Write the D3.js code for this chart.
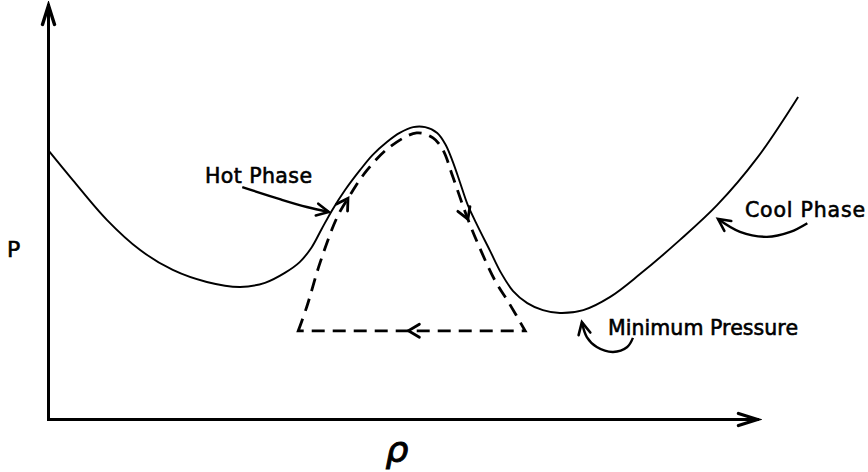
<!DOCTYPE html>
<html>
<head>
<meta charset="utf-8">
<script src="https://cdn.jsdelivr.net/npm/d3@7"></script>
<style>
  html, body { margin: 0; padding: 0; background: #fff; }
  svg { display: block; }
  text { font-family: "DejaVu Sans", sans-serif; fill: #000; stroke: #000; stroke-width: 0.6px; }
</style>
</head>
<body>
<svg id="chart" width="868" height="472"></svg>
<script>
// Equilibrium pressure P against density rho (arbitrary units, 0..10 on each axis)
const curveRho = [0.00, 0.35, 0.83, 1.30, 1.76, 2.24, 2.71, 3.06, 3.34, 3.55, 3.72, 3.86, 4.01, 4.19, 4.40, 4.58, 4.78, 4.96, 5.15, 5.32, 5.49, 5.61, 5.71, 5.81, 5.92, 6.06, 6.23, 6.39, 6.56, 6.76, 6.98, 7.22, 7.55, 7.93, 8.35, 8.91, 9.44, 10.00, 10.58];
const curveP   = [6.50, 5.77, 4.81, 4.08, 3.60, 3.31, 3.19, 3.29, 3.53, 3.79, 4.15, 4.59, 5.05, 5.53, 6.01, 6.38, 6.69, 6.91, 7.05, 7.05, 6.91, 6.62, 6.21, 5.72, 5.17, 4.66, 4.08, 3.53, 3.09, 2.80, 2.63, 2.56, 2.63, 2.95, 3.50, 4.32, 5.17, 6.30, 7.78];

// Thermal cycle (dashed loop), traversed up the left side, down the right, back along the bottom
const cycleRho = [3.53, 3.65, 3.84, 4.08, 4.26, 4.50, 4.82, 5.20, 5.43, 5.57, 5.71, 5.91, 6.09, 6.30, 6.52, 6.73];
const cycleP   = [2.13, 2.71, 3.79, 4.88, 5.41, 6.01, 6.57, 6.91, 6.79, 6.50, 5.85, 4.88, 4.13, 3.36, 2.75, 2.13];

// Points on the cycle where its direction is marked
const cycleArrowRho = [4.23, 5.85, 5.08];
const cycleArrowP   = [5.34, 4.78, 2.13];

// Callout labels and their curved pointers
const noteLabels = ["Hot Phase", "Cool Phase", "Minimum Pressure"];
const hotPointerRho  = [2.74, 3.27, 3.65, 3.96];
const hotPointerP    = [5.60, 5.31, 5.12, 5.00];
const coolPointerRho = [10.71, 10.47, 10.14, 9.76, 9.45];
const coolPointerP   = [4.73, 4.52, 4.40, 4.52, 4.83];
const minPointerRho  = [8.25, 8.17, 7.97, 7.74, 7.60, 7.53];
const minPointerP    = [1.96, 1.74, 1.62, 1.74, 1.98, 2.34];

const axisLabels = ["P", "ρ"];

const svg = d3.select("#chart");
const x = d3.scaleLinear().domain([0, 10]).range([48, 757]);
const y = d3.scaleLinear().domain([0, 10]).range([419, 5]);

const defs = svg.append("defs");
function chevronMarker(id, len, half, sw) {
  const pad = sw + 1;
  defs.append("marker")
    .attr("id", id)
    .attr("markerUnits", "userSpaceOnUse")
    .attr("viewBox", `${-len - pad} ${-half - pad} ${len + 2 * pad} ${2 * half + 2 * pad}`)
    .attr("markerWidth", len + 2 * pad)
    .attr("markerHeight", 2 * half + 2 * pad)
    .attr("refX", 0).attr("refY", 0)
    .attr("orient", "auto")
    .append("path")
    .attr("d", `M${-len},${-half}L0,0L${-len},${half}`)
    .attr("fill", "none").attr("stroke", "#000")
    .attr("stroke-width", sw)
    .attr("stroke-linecap", "round").attr("stroke-linejoin", "miter");
}
chevronMarker("axisHead", 19, 6, 3.4);
chevronMarker("noteHead", 12, 6, 2.6);

// Axes: bare lines with arrow heads, no ticks
const xAxis = d3.axisBottom(x).tickValues([]).tickSizeOuter(0);
const yAxis = d3.axisLeft(y).tickValues([]).tickSizeOuter(0);
svg.append("g").attr("transform", `translate(0,${y(0)})`).call(xAxis)
  .select(".domain")
  .attr("stroke", "#000").attr("stroke-width", 3).attr("stroke-linecap", "square")
  .attr("marker-end", "url(#axisHead)");
svg.append("g").attr("transform", `translate(${x(0)},0)`).call(yAxis)
  .select(".domain")
  .attr("stroke", "#000").attr("stroke-width", 3).attr("stroke-linecap", "square")
  .attr("marker-end", "url(#axisHead)");

svg.append("text").attr("x", 7).attr("y", 257)
  .attr("font-size", 22).text(axisLabels[0]);
svg.append("text").attr("x", 397).attr("y", 462)
  .attr("text-anchor", "middle").attr("font-size", 36).attr("font-style", "italic")
  .style("stroke-width", "1px")
  .text(axisLabels[1]);

const smooth = d3.line()
  .x(d => x(d[0])).y(d => y(d[1]))
  .curve(d3.curveCatmullRom.alpha(0.5));

// Equilibrium curve
svg.append("path")
  .datum(d3.zip(curveRho, curveP))
  .attr("d", smooth)
  .attr("fill", "none").attr("stroke", "#000").attr("stroke-width", 1.9)
  .attr("stroke-linejoin", "round");

// Thermal cycle
const loop = svg.append("path")
  .attr("d", smooth(d3.zip(cycleRho, cycleP)) + "Z")
  .attr("fill", "none").attr("stroke", "#000")
  .attr("stroke-width", 2.8).attr("stroke-dasharray", "13,8");

// Direction chevrons placed on the loop, oriented along its tangent
const node = loop.node();
const total = node.getTotalLength();
d3.zip(cycleArrowRho, cycleArrowP).forEach(([r, p]) => {
  const tx = x(r), ty = y(p);
  let best = 0, bestD = Infinity;
  for (let l = 0; l <= total; l += 0.5) {
    const q = node.getPointAtLength(l);
    const d = (q.x - tx) ** 2 + (q.y - ty) ** 2;
    if (d < bestD) { bestD = d; best = l; }
  }
  const a = node.getPointAtLength(Math.max(0, best - 3));
  const b = node.getPointAtLength(Math.min(total, best + 3));
  const c = node.getPointAtLength(best);
  const ang = Math.atan2(b.y - a.y, b.x - a.x) * 180 / Math.PI;
  svg.append("path")
    .attr("d", "M-11,-6.5L0,0L-11,6.5")
    .attr("transform", `translate(${c.x},${c.y}) rotate(${ang})`)
    .attr("fill", "none").attr("stroke", "#000").attr("stroke-width", 2.8)
    .attr("stroke-linecap", "round");
});

// Callouts
const pointers = [
  d3.zip(hotPointerRho, hotPointerP),
  d3.zip(coolPointerRho, coolPointerP),
  d3.zip(minPointerRho, minPointerP)
];
const pointerLine = d3.line()
  .x(d => x(d[0])).y(d => y(d[1]))
  .curve(d3.curveCatmullRom.alpha(0.5));
svg.selectAll("path.pointer").data(pointers).join("path")
  .attr("class", "pointer")
  .attr("d", pointerLine)
  .attr("fill", "none").attr("stroke", "#000").attr("stroke-width", 2.4)
  .attr("marker-end", "url(#noteHead)");

// Label anchors (left edge of text, baseline) and widths in pixels
const labelPlace = [
  { px: 205, py: 183, w: 107 },
  { px: 745, py: 217, w: 120 },
  { px: 608, py: 335, w: 190 }
];
svg.selectAll("text.note").data(noteLabels).join("text")
  .attr("class", "note")
  .attr("x", (d, i) => labelPlace[i].px)
  .attr("y", (d, i) => labelPlace[i].py)
  .attr("font-size", 20.5)
  .attr("textLength", (d, i) => labelPlace[i].w)
  .attr("lengthAdjust", "spacing")
  .text(d => d);
</script>
</body>
</html>
